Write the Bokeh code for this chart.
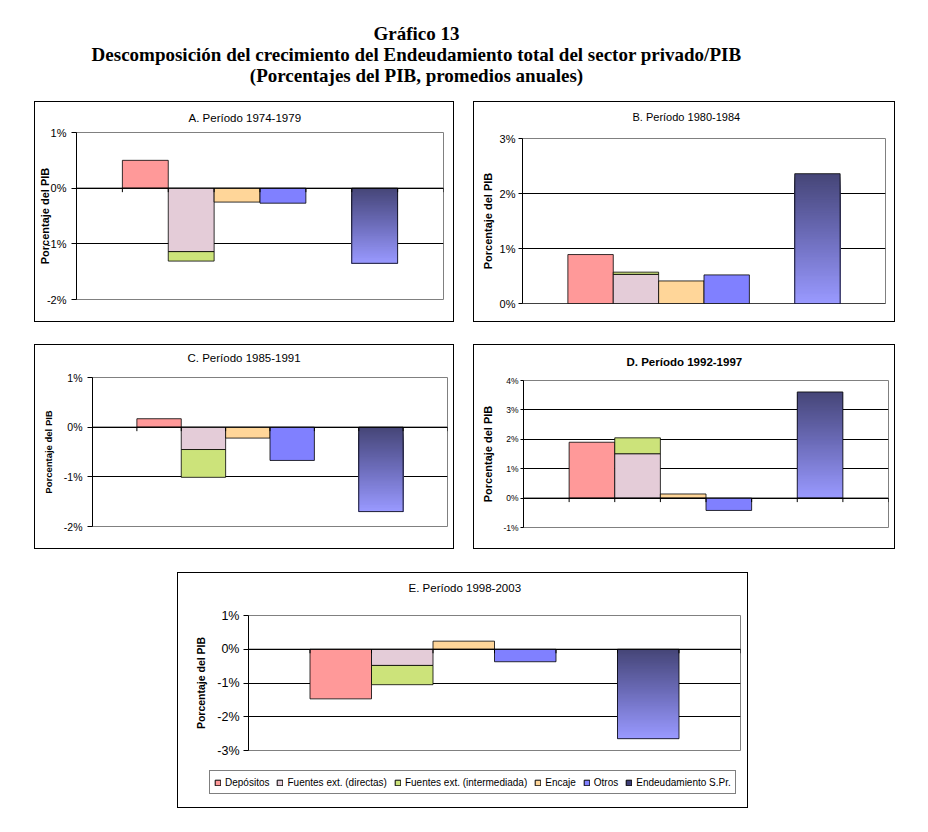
from bokeh.plotting import figure
from bokeh.models import Range1d, FixedTicker, PrintfTickFormatter, Span, Legend, LegendItem, Spacer, Title
from bokeh.layouts import column, row
from bokeh.embed import file_html
from bokeh.resources import INLINE
from bokeh.core.properties import value

# ---------------- data ----------------
series = ["Depósitos", "Fuentes ext. (directas)", "Fuentes ext. (intermediada)",
          "Encaje", "Otros", "Endeudamiento S.Pr."]
slots = [1, 2, 2, 3, 4, 6]          # category slot of each series (8 slots on the axis)
n_slots = 8

title_lines = ["Gráfico 13",
               "Descomposición del crecimiento del Endeudamiento total del sector privado/PIB",
               "(Porcentajes del PIB, promedios anuales)"]

titles = ["A. Período 1974-1979", "B. Período 1980-1984", "C. Período 1985-1991",
          "D. Período 1992-1997", "E. Período 1998-2003"]

vals_A = [0.50, -1.14, -0.17, -0.25, -0.27, -1.35]
vals_B = [0.89, 0.53, 0.04, 0.41, 0.52, 2.36]
vals_C = [0.17, -0.45, -0.56, -0.22, -0.67, -1.70]
vals_D = [1.90, 1.51, 0.54, 0.14, -0.42, 3.61]
vals_E = [-1.47, -0.48, -0.57, 0.24, -0.37, -2.65]

ticks_A = [-2, -1, 0, 1]
ticks_B = [0, 1, 2, 3]
ticks_C = [-2, -1, 0, 1]
ticks_D = [-1, 0, 1, 2, 3, 4]
ticks_E = [-3, -2, -1, 0, 1]

ylabel = "Porcentaje del PIB"

colors = ["#FF9999", "#E4CCD8", "#CCE37A", "#FFD699", "#8080FF"]
grad_stops = [(0.0, (70, 70, 120)), (0.5, (110, 110, 188)), (1.0, (153, 153, 255))]
legend_dark = "#3E3E78"

FONT = "Liberation Sans"


def grad_color(t):
    for (t0, c0), (t1, c1) in zip(grad_stops[:-1], grad_stops[1:]):
        if t <= t1:
            f = (t - t0) / (t1 - t0)
            c = [round(a + (b - a) * f) for a, b in zip(c0, c1)]
            return "#%02x%02x%02x" % tuple(c)
    return "#%02x%02x%02x" % grad_stops[-1][1]


def make_panel(title, vals, ticks, cfg):
    w, h, bl, br, bt, bb = cfg["size"]
    ymin, ymax = ticks[0], ticks[-1]
    p = figure(width=w, height=h, x_range=Range1d(0, n_slots), y_range=Range1d(ymin, ymax),
               toolbar_location=None, output_backend="svg", x_axis_location=None,
               min_border_left=bl, min_border_right=br, min_border_top=bt, min_border_bottom=bb,
               background_fill_color="white", border_fill_color="white")
    p.outline_line_color = "#808080"
    p.outline_line_width = 1

    # title (a thin spacer title between the frame and the real title)
    p.add_layout(Title(text=" ", text_font_size="1px", standoff=cfg["title_gap"]), "above")
    p.add_layout(Title(text=title, align="left", offset=cfg["title_offset"], standoff=4,
                       text_font=FONT, text_font_size=cfg["title_size"],
                       text_font_style=cfg["title_style"], text_color="black"), "above")

    # y axis
    ax = p.yaxis[0]
    ax.ticker = FixedTicker(ticks=ticks)
    ax.formatter = PrintfTickFormatter(format="%d%%")
    ax.major_label_text_font = FONT
    ax.major_label_text_font_size = cfg["tick_size"]
    ax.major_label_text_color = "black"
    ax.major_tick_out = cfg["tick_out"]
    ax.major_tick_in = 0
    ax.minor_tick_line_color = None
    ax.major_label_standoff = cfg["label_standoff"]
    ax.axis_line_color = "black"
    ax.major_tick_line_color = "black"
    ax.axis_label = ylabel
    ax.axis_label_text_font = FONT
    ax.axis_label_text_font_style = "bold"
    ax.axis_label_text_font_size = cfg["ylabel_size"]
    ax.axis_label_text_color = "black"
    ax.axis_label_standoff = cfg["ylabel_standoff"]

    # grid
    p.xgrid.visible = False
    p.ygrid.ticker = FixedTicker(ticks=ticks[:-1])
    p.ygrid.grid_line_color = "black"
    p.ygrid.grid_line_width = 1

    # stacking
    pos_base, neg_base = {}, {}
    bottoms, tops = [], []
    for s, v in zip(slots, vals):
        if v >= 0:
            b = pos_base.get(s, 0.0)
            bottoms.append(b); tops.append(b + v); pos_base[s] = b + v
        else:
            b = neg_base.get(s, 0.0)
            bottoms.append(b + v); tops.append(b); neg_base[s] = b + v

    for i in range(5):
        p.quad(left=[slots[i]], right=[slots[i] + 1], bottom=[bottoms[i]], top=[tops[i]],
               fill_color=colors[i], line_color="black", line_width=0.8)

    # gradient bar (Endeudamiento): overlapping layers, each lighter one from its top to the bar bottom
    s, lo, hi = slots[5], bottoms[5], tops[5]
    N = 80
    step = (hi - lo) / N
    sl_top = [hi - k * step for k in range(N)]
    sl_bot = [lo] * N
    sl_col = [grad_color(k / (N - 1)) for k in range(N)]
    p.quad(left=[s] * N, right=[s + 1] * N, bottom=sl_bot, top=sl_top,
           fill_color=sl_col, line_color=None)
    p.quad(left=[s], right=[s + 1], bottom=[lo], top=[hi],
           fill_color=None, line_color="black", line_width=0.8)

    # zero axis line with category tick marks
    p.add_layout(Span(location=0, dimension="width", line_color="black", line_width=1))
    frame_h = h - bt - bb
    tl = 4.0 * (ymax - ymin) / frame_h
    bounds = list(range(1, n_slots + 1))
    p.segment(x0=bounds, y0=[0] * len(bounds), x1=bounds, y1=[-tl] * len(bounds),
              line_color="black", line_width=1)
    return p


def make_legend_fig(w, h, loc):
    # legend-only figure: proxy swatch glyphs lie outside its visible ranges
    q = figure(width=w, height=h, x_range=Range1d(0, 1), y_range=Range1d(0, 1),
               toolbar_location=None, output_backend="svg", x_axis_location=None,
               y_axis_location=None, min_border=0, outline_line_color=None,
               background_fill_color="white", border_fill_color="white")
    q.grid.visible = False
    swatch = colors + [legend_dark]
    items = []
    for name, col in zip(series, swatch):
        r = q.quad(left=[-3], right=[-2], bottom=[-3], top=[-2], fill_color=col,
                   line_color="black", line_width=1)
        items.append(LegendItem(label=name, renderers=[r]))
    lg = Legend(items=items, orientation="horizontal", location=loc)
    lg.border_line_color = "black"
    lg.border_line_width = 1
    lg.background_fill_color = "white"
    lg.background_fill_alpha = 1
    lg.label_text_font = FONT
    lg.label_text_font_size = "10px"
    lg.label_text_color = "black"
    lg.glyph_width = 7
    lg.glyph_height = 7
    lg.label_standoff = 4
    lg.spacing = 7
    lg.padding = 4
    lg.margin = 0
    lg.label_height = 14
    q.add_layout(lg)
    return q


def boxed(*children):
    return column(*children, styles={"border": "1px solid black"})


# sizes are of the figure inside a 1px black chart-area border
cfg_A = dict(size=(418, 219, 40, 10, 30, 22), title_offset=112, title_gap=4,
             title_size="11.5px", title_style="normal", tick_size="11px", tick_out=5,
             label_standoff=5, ylabel_size="11px", ylabel_standoff=-7)
cfg_B = dict(size=(420, 219, 48, 9, 36, 18), title_offset=110, title_gap=11,
             title_size="11px", title_style="normal", tick_size="11px", tick_out=4,
             label_standoff=3, ylabel_size="11px", ylabel_standoff=3)
cfg_C = dict(size=(418, 203, 57, 6, 32, 22), title_offset=95, title_gap=9,
             title_size="11.5px", title_style="normal", tick_size="10.5px", tick_out=5,
             label_standoff=5, ylabel_size="9.5px", ylabel_standoff=7)
cfg_D = dict(size=(420, 203, 49, 6, 35, 21), title_offset=103, title_gap=8,
             title_size="11.5px", title_style="bold", tick_size="8.5px", tick_out=3,
             label_standoff=2, ylabel_size="11px", ylabel_standoff=6)
cfg_E = dict(size=(569, 192, 70, 7, 42, 15), title_offset=160, title_gap=17,
             title_size="11.5px", title_style="normal", tick_size="12.5px", tick_out=5,
             label_standoff=4, ylabel_size="10.5px", ylabel_standoff=7)

pA = boxed(make_panel(titles[0], vals_A, ticks_A, cfg_A))
pB = boxed(make_panel(titles[1], vals_B, ticks_B, cfg_B))
pC = boxed(make_panel(titles[2], vals_C, ticks_C, cfg_C))
pD = boxed(make_panel(titles[3], vals_D, ticks_D, cfg_D))
pE = boxed(make_panel(titles[4], vals_E, ticks_E, cfg_E),
           column(make_legend_fig(569, 42, (31, 13))))

# main title
pt = figure(width=920, height=101, x_range=Range1d(0, 920), y_range=Range1d(101, 0),
            toolbar_location=None, output_backend="svg", x_axis_location=None,
            y_axis_location=None, min_border=0, outline_line_color=None)
pt.grid.visible = False
pt.text(x=[416, 416, 416], y=[33, 54, 75], text=title_lines,
        text_font=value("Liberation Serif"), text_font_style="bold",
        text_font_size="19px", text_align="center", text_baseline="middle",
        text_color="black")

root = column(
    pt,
    row(Spacer(width=34, height=221), pA, Spacer(width=19, height=221), pB),
    Spacer(width=10, height=22),
    row(Spacer(width=34, height=205), pC, Spacer(width=19, height=205), pD),
    Spacer(width=10, height=23),
    row(Spacer(width=177, height=236), pE),
)

open("out.html", "w").write(file_html(root, INLINE))
